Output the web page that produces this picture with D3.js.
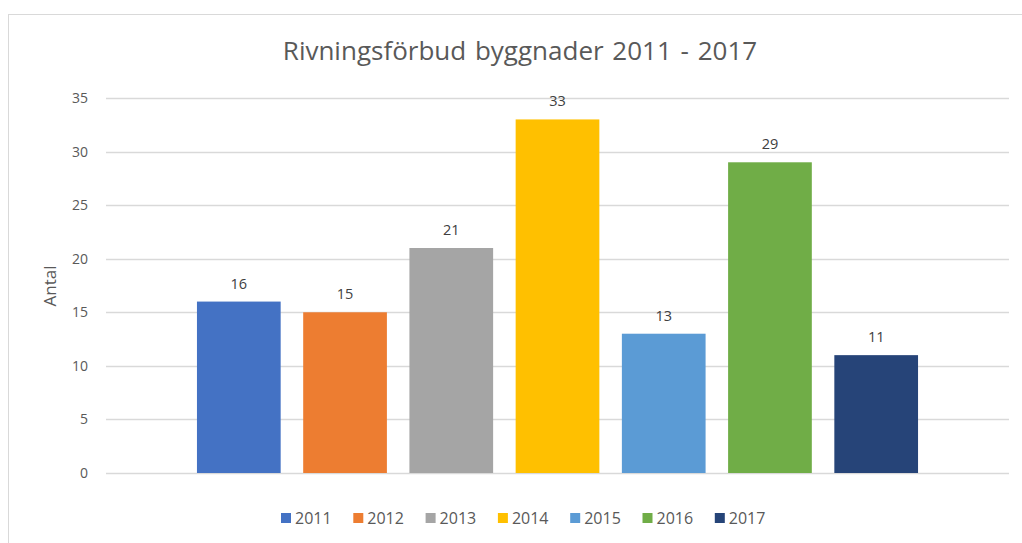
<!DOCTYPE html>
<html>
<head>
<meta charset="utf-8">
<script src="https://cdn.jsdelivr.net/npm/d3@7"></script>
<style>
  body { margin: 0; background: #fff; }
  svg { display: block; font-family: "Open Sans", "Liberation Sans", sans-serif; }
</style>
</head>
<body>
<svg id="chart" width="1022" height="543"></svg>
<script>
// data
const years = ["2011", "2012", "2013", "2014", "2015", "2016", "2017"];
const antal = [16, 15, 21, 33, 13, 29, 11];
const colors = ["#4472c4", "#ed7d31", "#a5a5a5", "#ffc000", "#5b9bd5", "#70ad47", "#264478"];
const yTicks = [0, 5, 10, 15, 20, 25, 30, 35];

const svg = d3.select("#chart");

// chart frame
svg.append("rect")
    .attr("x", 8.5).attr("y", 14.5)
    .attr("width", 1030).attr("height", 560)
    .attr("fill", "#fff")
    .attr("stroke", "#d9d9d9");

const plot = { left: 106, right: 1009, top: 98, bottom: 473 };

const y = d3.scaleLinear().domain([0, 35]).range([plot.bottom, plot.top]);
const x = d3.scaleBand().domain(years)
    .range([197 - 11.3, 918 + 11.3])
    .paddingInner(0.212).paddingOuter(0.106);

// gridlines
svg.append("g")
    .selectAll("line")
    .data(yTicks)
    .join("line")
    .attr("x1", plot.left).attr("x2", plot.right)
    .attr("y1", d => Math.round(y(d)) + 0.5).attr("y2", d => Math.round(y(d)) + 0.5)
    .attr("stroke", "#d9d9d9")
    .attr("stroke-width", 1.5);

// y axis labels
const yAxis = svg.append("g")
    .attr("transform", `translate(${plot.left - 18},0)`)
    .call(d3.axisLeft(y).tickValues(yTicks).tickSize(0).tickPadding(0));
yAxis.select(".domain").remove();
yAxis.selectAll("text")
    .attr("fill", "#595959")
    .style("font-size", "14px")
    .style("font-family", "'Open Sans', sans-serif");

// bars
svg.append("g")
    .selectAll("rect")
    .data(years)
    .join("rect")
    .attr("x", d => x(d))
    .attr("y", (d, i) => y(antal[i]))
    .attr("width", x.bandwidth())
    .attr("height", (d, i) => y(0) - y(antal[i]))
    .attr("fill", (d, i) => colors[i]);

// data labels
svg.append("g")
    .selectAll("text")
    .data(years)
    .join("text")
    .attr("x", d => x(d) + x.bandwidth() / 2)
    .attr("y", (d, i) => y(antal[i]) - 13)
    .attr("text-anchor", "middle")
    .attr("fill", "#404040")
    .style("font-size", "14.5px")
    .text((d, i) => antal[i]);

// title
svg.append("text")
    .attr("x", 520).attr("y", 60)
    .attr("text-anchor", "middle")
    .attr("fill", "#595959")
    .style("font-size", "26px")
    .style("word-spacing", "2px")
    .text("Rivningsförbud byggnader 2011 - 2017");

// y axis title
svg.append("text")
    .attr("transform", "translate(56,286) rotate(-90)")
    .attr("text-anchor", "middle")
    .attr("fill", "#595959")
    .style("font-size", "17px")
    .text("Antal");

// legend
const legend = svg.append("g").attr("transform", "translate(281,518)");
const itemW = 72.3;
const item = legend.selectAll("g")
    .data(years)
    .join("g")
    .attr("transform", (d, i) => `translate(${i * itemW},0)`);
item.append("rect")
    .attr("x", 0).attr("y", -5)
    .attr("width", 10).attr("height", 10)
    .attr("fill", (d, i) => colors[i]);
item.append("text")
    .attr("x", 14).attr("y", 5.5)
    .attr("fill", "#595959")
    .style("font-size", "16px")
    .text(d => d);
</script>
</body>
</html>
